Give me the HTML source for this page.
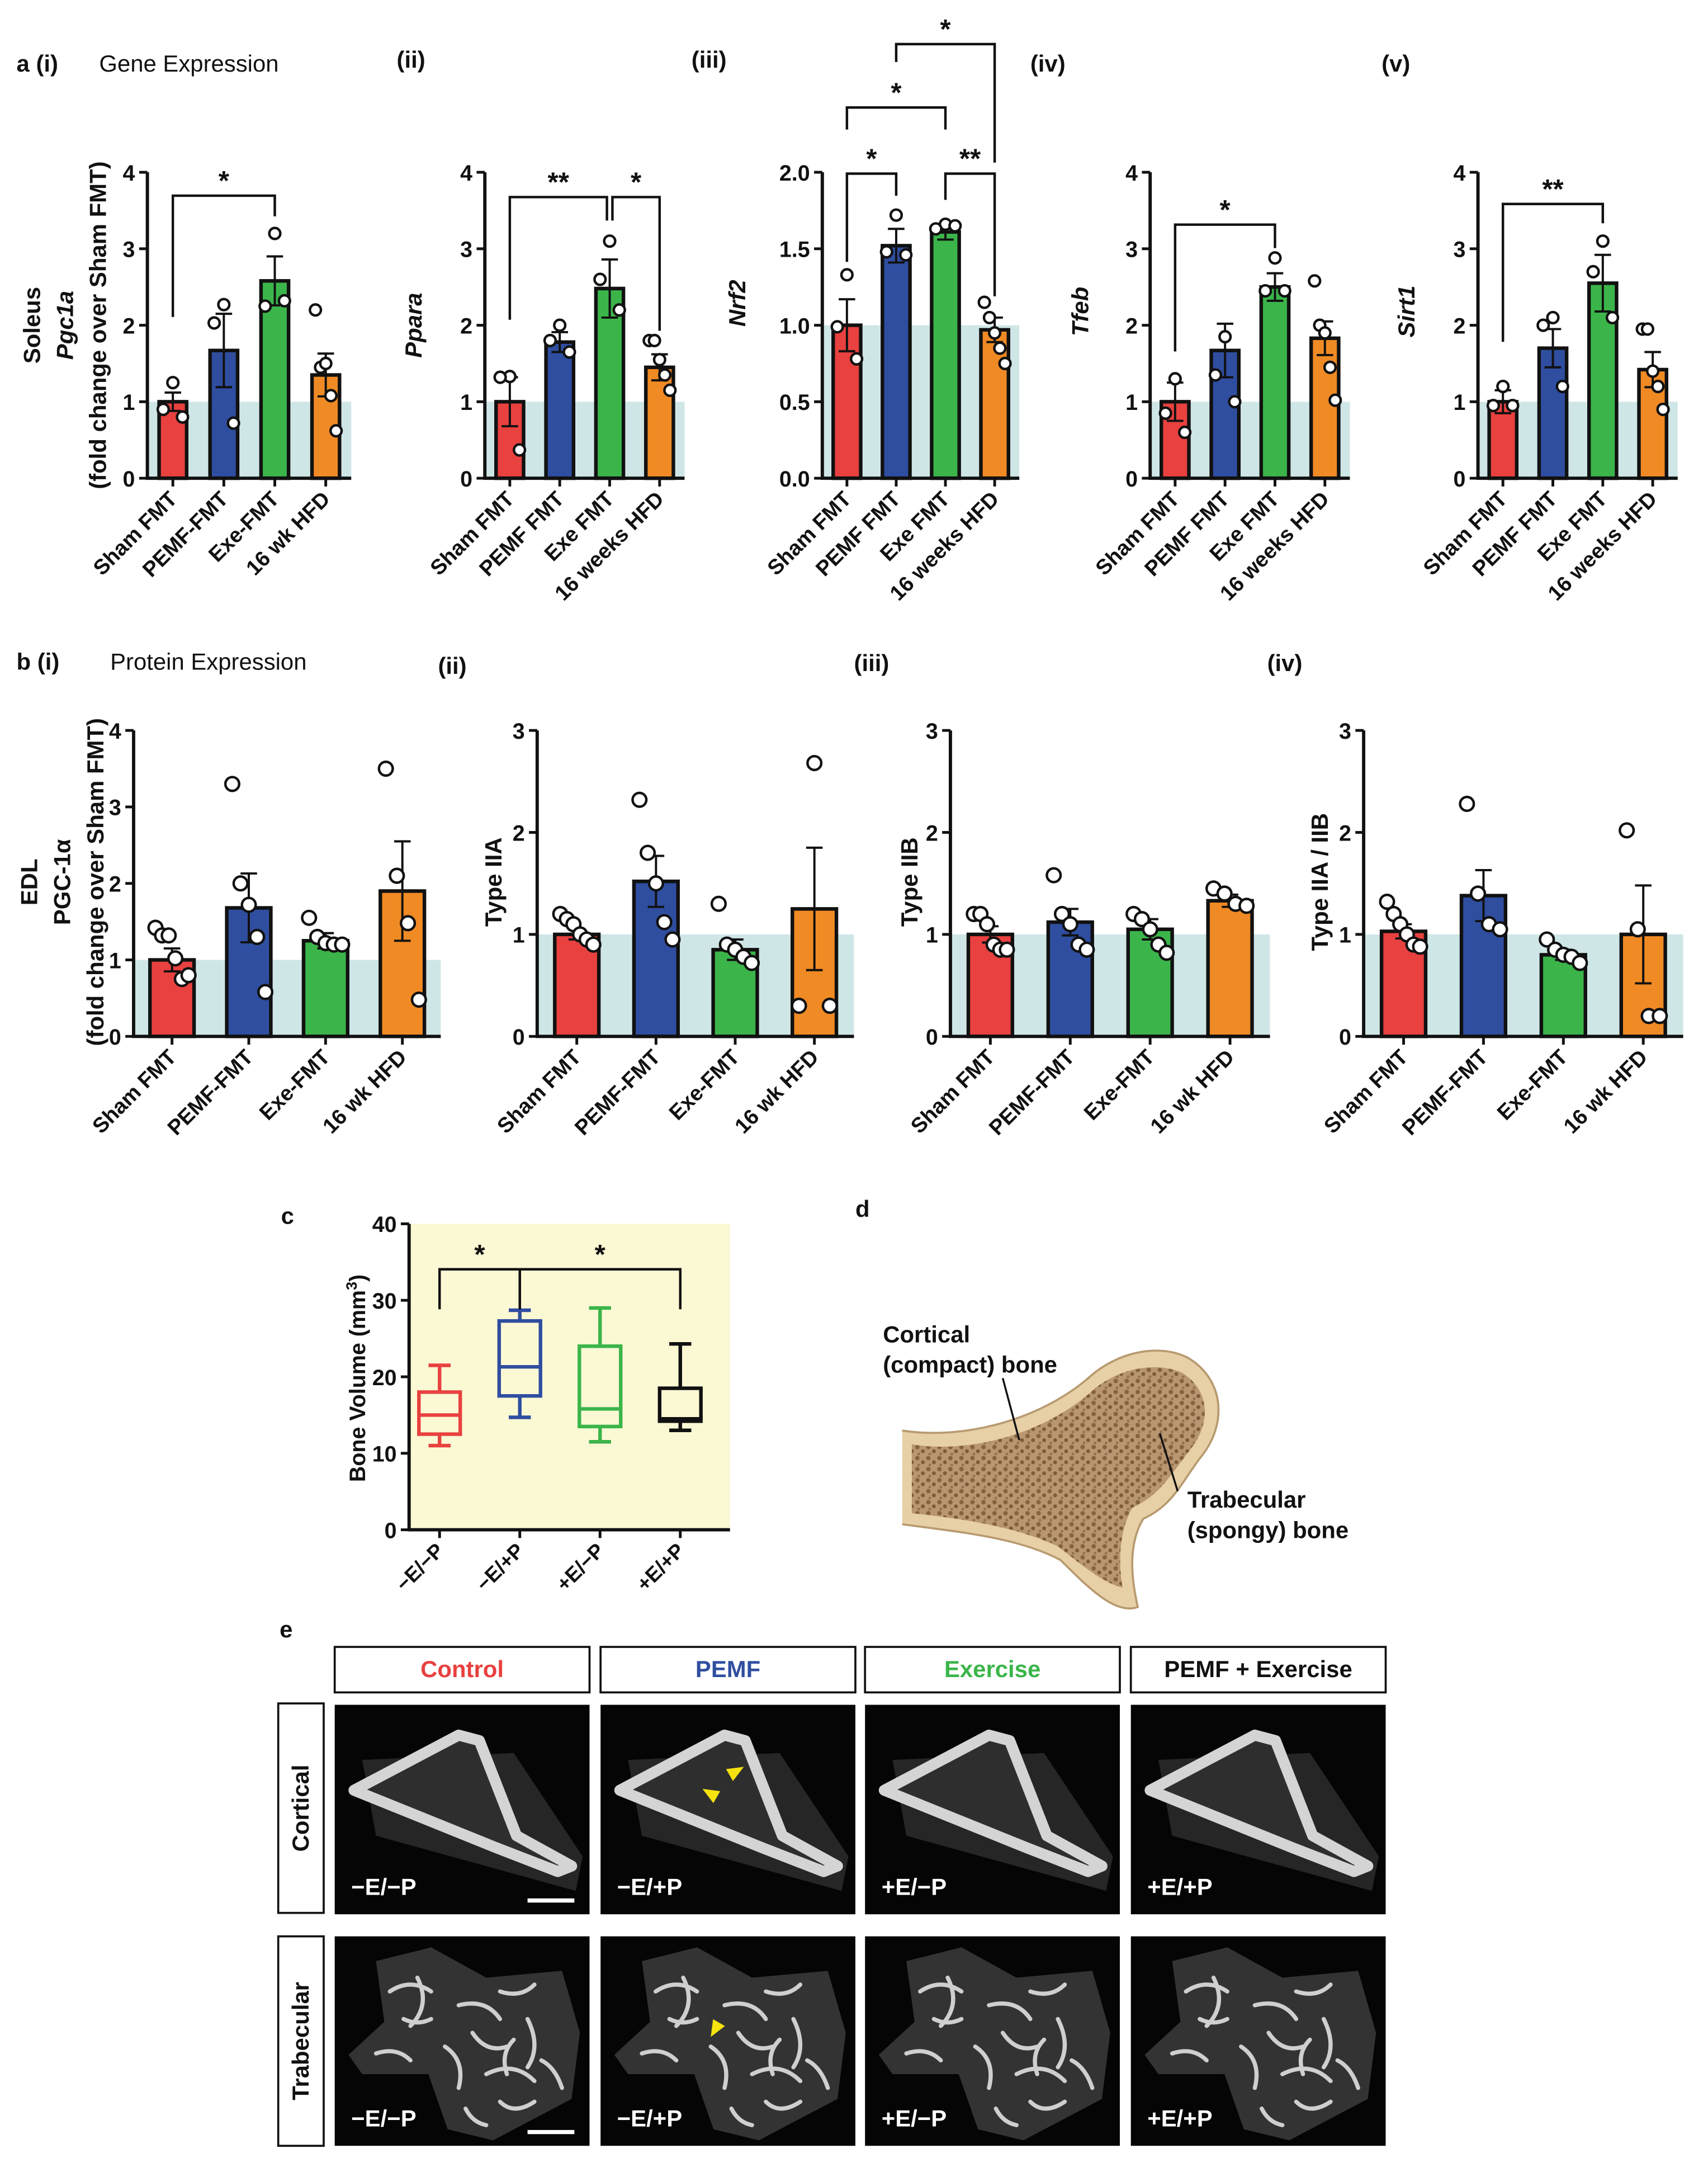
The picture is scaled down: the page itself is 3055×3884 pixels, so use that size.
<!DOCTYPE html>
<html><head><meta charset="utf-8">
<style>
html,body{margin:0;padding:0;background:#fff;}
svg{display:block;}
text{font-family:"Liberation Sans",Arial,sans-serif;}
</style></head>
<body>
<svg id="fig" width="3055" height="3884" viewBox="0 0 1240 1576" preserveAspectRatio="none" xmlns="http://www.w3.org/2000/svg">
<defs>
<pattern id="spongy" width="8" height="8" patternUnits="userSpaceOnUse">
<rect width="8" height="8" fill="#b89670"/>
<circle cx="2" cy="2" r="1.6" fill="#86623f"/><circle cx="6" cy="5" r="1.4" fill="#7d5a3a"/><circle cx="3" cy="7" r="1" fill="#94714e"/>
</pattern>
</defs>
<g id="root"></g>
</svg>
<script>
// ===== Panel a data =====
const groupsA1 = ["Sham FMT","PEMF-FMT","Exe-FMT","16 wk HFD"];
const groupsA2 = ["Sham FMT","PEMF FMT","Exe FMT","16 weeks HFD"];
const groupsB = ["Sham FMT","PEMF-FMT","Exe-FMT","16 wk HFD"];
const a1Means = [1.0,1.67,2.58,1.35];
const a1Sem = [0.12,0.48,0.32,0.28];
const a1Dots = [[1.25,0.9,0.8],[2.27,2.03,0.72],[3.2,2.25,2.32],[2.2,1.45,1.5,1.08,0.62]];
const a2Means = [1.0,1.78,2.48,1.45];
const a2Sem = [0.32,0.13,0.38,0.17];
const a2Dots = [[1.33,1.32,0.37],[2.0,1.8,1.65],[3.1,2.6,2.2],[1.8,1.8,1.55,1.35,1.15]];
const a3Means = [1.0,1.52,1.61,0.97];
const a3Sem = [0.17,0.11,0.05,0.08];
const a3Dots = [[1.33,0.99,0.78],[1.72,1.48,1.46],[1.66,1.63,1.65],[1.15,1.05,0.95,0.85,0.75]];
const a4Means = [1.0,1.67,2.5,1.83];
const a4Sem = [0.25,0.35,0.18,0.22];
const a4Dots = [[1.3,0.85,0.6],[1.85,1.35,1.0],[2.88,2.45,2.45],[2.58,2.0,1.9,1.45,1.02]];
const a5Means = [1.0,1.7,2.55,1.42];
const a5Sem = [0.15,0.25,0.37,0.23];
const a5Dots = [[1.2,0.95,0.95],[2.1,2.0,1.2],[3.1,2.7,2.1],[1.95,1.95,1.4,1.2,0.9]];
const ticks4 = ["0","1","2","3","4"];
const ticksNrf = ["0.0","0.5","1.0","1.5","2.0"];
const ticks3 = ["0","1","2","3"];
// ===== Panel b data =====
const b1Means = [1.0,1.68,1.25,1.9];
const b1Sem = [0.15,0.45,0.1,0.65];
const b1Dots = [[1.42,1.32,1.32,1.02,0.75,0.8],[3.3,2.0,1.72,1.3,0.58],[1.55,1.3,1.22,1.2,1.2],[3.5,2.1,1.48,0.48]];
const b2Means = [1.0,1.52,0.85,1.25];
const b2Sem = [0.05,0.25,0.1,0.6];
const b2Dots = [[1.2,1.15,1.1,1.0,0.95,0.9],[2.32,1.8,1.5,1.12,0.95],[1.3,0.9,0.85,0.78,0.72],[2.68,0.3,0.3]];
const b3Means = [1.0,1.12,1.05,1.33];
const b3Sem = [0.08,0.13,0.1,0.06];
const b3Dots = [[1.2,1.2,1.1,0.9,0.85,0.85],[1.58,1.2,1.1,0.9,0.85],[1.2,1.15,1.05,0.9,0.82],[1.45,1.4,1.3,1.28]];
const b4Means = [1.03,1.38,0.8,1.0];
const b4Sem = [0.07,0.25,0.05,0.48];
const b4Dots = [[1.32,1.2,1.1,1.0,0.9,0.88],[2.28,1.4,1.1,1.05],[0.95,0.85,0.8,0.78,0.72],[2.02,1.05,0.2,0.2]];
// ===== Panel c data =====
const cGroups = ["\u2212E/\u2212P","\u2212E/+P","+E/\u2212P","+E/+P"];
const cMin = [11,14.7,11.5,13];
const cQ1 = [12.5,17.5,13.5,14.2];
const cMed = [15,21.3,15.8,14.5];
const cQ3 = [18,27.3,24,18.5];
const cMax = [21.5,28.7,29,24.3];
const cTicks = ["0","10","20","30","40"];

const NS="http://www.w3.org/2000/svg";
const root=document.getElementById('root');
function mk(tag,attrs,parent,txt){const e=document.createElementNS(NS,tag);for(const k in attrs)e.setAttribute(k,attrs[k]);if(txt!==undefined)e.textContent=txt;(parent||root).appendChild(e);return e;}
const COLORS=["#e8413f","#2f4ea0","#3bb54a","#f08a24"];

function barChart(o){
  const g=mk('g',{});
  
  
  const yS=v=>o.y0-(v/o.ymax)*(o.y0-o.yTop);
  const n=o.means.length;
  const step=(o.xEnd-o.ax)/n;
  const xS=i=>o.ax+step*(i+0.5);
  const sh=mk('rect',{x:o.ax,y:yS(1),width:o.xEnd-o.ax,height:o.y0-yS(1),fill:"#cfe6e7"},g);
  
  
  for(let i=0;i<n;i++){
    const cx=xS(i),top=yS(o.means[i]);
    const b=mk('rect',{x:cx-o.bw/2,y:top,width:o.bw,height:o.y0-top,fill:COLORS[i],stroke:"#111","stroke-width":2.6},g);
    
    
    const hi=yS(o.means[i]+o.sem[i]),lo=yS(o.means[i]-o.sem[i]);
    const eb=mk('path',{d:`M${cx} ${lo}V${hi}M${cx-6} ${hi}H${cx+6}M${cx-6} ${lo}H${cx+6}`,stroke:"#111","stroke-width":1.6,fill:"none"},g);
    
    
    const d=o.dots[i],m=d.length;
    d.forEach((v,j)=>{
      let off=0;
      if(m>1){const w=o.bw*0.75;off=-w/2+w*j/(m-1);}
      if(m===3)off=[0,-o.bw*0.35,o.bw*0.35][j];
      const c=mk('circle',{cx:cx+off,cy:yS(v),r:o.r,fill:"#fff",stroke:"#111","stroke-width":1.8},g);
      
      
    });
    mk('line',{x1:cx,y1:o.y0,x2:cx,y2:o.y0+6,stroke:"#111","stroke-width":2},g);
    const t=mk('text',{x:cx+4,y:o.y0+16,transform:`rotate(-45 ${cx+4} ${o.y0+16})`,"text-anchor":"end","font-size":o.fs||15.5,"font-weight":"bold",fill:"#111"},g,o.labels[i]);
    
    
  }
  mk('path',{d:`M${o.ax} ${o.yTop}V${o.y0}H${o.xEnd}`,stroke:"#111","stroke-width":2.4,fill:"none"},g);
  o.ticks.forEach((tl,k)=>{
    const y=o.y0-(o.y0-o.yTop)*k/(o.ticks.length-1);
    mk('line',{x1:o.ax-6,y1:y,x2:o.ax,y2:y,stroke:"#111","stroke-width":2},g);
    const t=mk('text',{x:o.ax-9,y:y+6,"text-anchor":"end","font-size":16,"font-weight":"bold",fill:"#111"},g,tl);
    
    
  });
  return {xS,yS,g};
}
function ylabel(x,y,lines){
  lines.forEach((l,i)=>{
    const t=mk('text',{x:x+i*24,y:y,transform:`rotate(-90 ${x+i*24} ${y})`,"text-anchor":"middle","font-size":17,"font-weight":"bold","font-style":l.it?"italic":"normal",fill:"#111"},root,l.t);
    
    
  });
}
function bracket(x1,x2,y,l1,l2,lab){
  const p=mk('path',{d:`M${x1} ${l1}V${y}H${x2}V${l2}`,stroke:"#111","stroke-width":1.8,fill:"none"});
  
  
  const t=mk('text',{x:(x1+x2)/2,y:y-4,"text-anchor":"middle","font-size":20,"font-weight":"bold",fill:"#111"},root,lab);
  
  
}
function label(x,y,s,opt){
  const t=mk('text',Object.assign({x:x,y:y,"font-size":17,fill:"#111"},opt||{}),root,s);
  
  
  return t;
}
label(12,52,"a (i)",{"font-weight":"bold"});label(72,52,"Gene Expression");
label(288,49,"(ii)",{"font-weight":"bold"});label(502,49,"(iii)",{"font-weight":"bold"});
label(748,52,"(iv)",{"font-weight":"bold"});label(1003,52,"(v)",{"font-weight":"bold"});
label(12,486,"b (i)",{"font-weight":"bold"});label(80,486,"Protein Expression");
label(318,489,"(ii)",{"font-weight":"bold"});label(620,487,"(iii)",{"font-weight":"bold"});label(920,487,"(iv)",{"font-weight":"bold"});
label(204,888,"c",{"font-weight":"bold"});label(621,883,"d",{"font-weight":"bold"});label(203,1188,"e",{"font-weight":"bold"});

const A={y0:347,yTop:125,bw:20,r:4};
const c1=barChart(Object.assign({},A,{name:'chart-a1',ax:107,xEnd:255,ymax:4,ticks:ticks4,means:a1Means,sem:a1Sem,dots:a1Dots,labels:groupsA1}));
const c2=barChart(Object.assign({},A,{name:'chart-a2',ax:352,xEnd:497,ymax:4,ticks:ticks4,means:a2Means,sem:a2Sem,dots:a2Dots,labels:groupsA2}));
const c3=barChart(Object.assign({},A,{name:'chart-a3',ax:597,xEnd:740,ymax:2,ticks:ticksNrf,means:a3Means,sem:a3Sem,dots:a3Dots,labels:groupsA2}));
const c4=barChart(Object.assign({},A,{name:'chart-a4',ax:835,xEnd:980,ymax:4,ticks:ticks4,means:a4Means,sem:a4Sem,dots:a4Dots,labels:groupsA2}));
const c5=barChart(Object.assign({},A,{name:'chart-a5',ax:1073,xEnd:1218,ymax:4,ticks:ticks4,means:a5Means,sem:a5Sem,dots:a5Dots,labels:groupsA2}));
ylabel(29,236,[{t:"Soleus"},{t:"Pgc1a",it:true},{t:"(fold change over Sham FMT)"}]);
ylabel(306,236,[{t:"Ppara",it:true}]);
ylabel(541,220,[{t:"Nrf2",it:true}]);
ylabel(790,226,[{t:"Tfeb",it:true}]);
ylabel(1027,226,[{t:"Sirt1",it:true}]);
bracket(c1.xS(0),c1.xS(2),142,230,157,"*");
bracket(c2.xS(0),c2.xS(2)-2,143,232,160,"**");
bracket(c2.xS(2)+2,c2.xS(3),143,160,240,"*");
bracket(c3.xS(0),c3.xS(1),126,190,142,"*");
bracket(c3.xS(2),c3.xS(3),126,145,215,"**");
bracket(c3.xS(0),c3.xS(2),78,94,94,"*");
bracket(c3.xS(1),c3.xS(3),32,45,118,"*");
bracket(c4.xS(0),c4.xS(2),163,255,180,"*");
bracket(c5.xS(0),c5.xS(2),148,248,162,"**");

const B={y0:752,yTop:530,bw:32,r:5};
barChart(Object.assign({},B,{name:'chart-b1',ax:97,xEnd:320,ymax:4,ticks:ticks4,means:b1Means,sem:b1Sem,dots:b1Dots,labels:groupsB}));
barChart(Object.assign({},B,{name:'chart-b2',ax:390,xEnd:620,ymax:3,ticks:ticks3,means:b2Means,sem:b2Sem,dots:b2Dots,labels:groupsB}));
barChart(Object.assign({},B,{name:'chart-b3',ax:690,xEnd:922,ymax:3,ticks:ticks3,means:b3Means,sem:b3Sem,dots:b3Dots,labels:groupsB}));
barChart(Object.assign({},B,{name:'chart-b4',ax:990,xEnd:1222,ymax:3,ticks:ticks3,means:b4Means,sem:b4Sem,dots:b4Dots,labels:groupsB}));
ylabel(27,640,[{t:"EDL"},{t:"PGC-1\u03b1"},{t:"(fold change over Sham FMT)"}]);
ylabel(364,640,[{t:"Type IIA"}]);
ylabel(666,640,[{t:"Type IIB"}]);
ylabel(964,640,[{t:"Type IIA / IIB"}]);

(function(){
  const ax=297,xEnd=530,y0=1110,yTop=888,ymax=40;
  const yS=v=>y0-(v/ymax)*(y0-yTop);
  const step=(xEnd-ax)/4, xS=i=>ax+step*(i+0.5)-7;
  const bg=mk('rect',{x:ax,y:yTop,width:xEnd-ax,height:y0-yTop,fill:"#fbf8d4"});
  
  
  const cols=["#e8413f","#2f4ea0","#3bb54a","#111"];
  for(let i=0;i<4;i++){
    const cx=xS(i),w=30;
    const g=mk('g',{stroke:cols[i],"stroke-width":2.6,fill:"none"});
    
    
    mk('rect',{x:cx-w/2,y:yS(cQ3[i]),width:w,height:yS(cQ1[i])-yS(cQ3[i])},g);
    mk('path',{d:`M${cx-w/2} ${yS(cMed[i])}H${cx+w/2}M${cx} ${yS(cQ3[i])}V${yS(cMax[i])}M${cx-8} ${yS(cMax[i])}H${cx+8}M${cx} ${yS(cQ1[i])}V${yS(cMin[i])}M${cx-8} ${yS(cMin[i])}H${cx+8}`},g);
    mk('line',{x1:cx,y1:y0,x2:cx,y2:y0+6,stroke:"#111","stroke-width":2});
    const t=mk('text',{x:cx+4,y:y0+16,transform:`rotate(-45 ${cx+4} ${y0+16})`,"text-anchor":"end","font-size":15,"font-weight":"bold",fill:"#111"},root,cGroups[i]);
    
    
  }
  mk('path',{d:`M${ax} ${yTop}V${y0}H${xEnd}`,stroke:"#111","stroke-width":2.4,fill:"none"});
  cTicks.forEach((tl,k)=>{
    const y=y0-(y0-yTop)*k/4;
    mk('line',{x1:ax-6,y1:y,x2:ax,y2:y,stroke:"#111","stroke-width":2});
    const t=mk('text',{x:ax-9,y:y+6,"text-anchor":"end","font-size":16,"font-weight":"bold",fill:"#111"},root,tl);
    
    
  });
  const yl=mk('text',{x:265,y:1000,transform:"rotate(-90 265 1000)","text-anchor":"middle","font-size":16,"font-weight":"bold",fill:"#111"});
  
  
  yl.innerHTML='Bone Volume (mm<tspan dy="-6" font-size="11">3</tspan><tspan dy="6">)</tspan>';
  bracket(xS(0),xS(1),921,950,950,"*");
  bracket(xS(1),xS(3),921,950,950,"*");
})();

(function(){
  const g=mk('g',{});
  
  
  mk('path',{d:"M655 1038 C700 1045 755 1030 790 1000 C812 980 842 975 862 985 C888 1000 892 1032 872 1057 C858 1075 852 1092 830 1102 C818 1122 822 1148 826 1166 C810 1172 790 1152 770 1132 C740 1116 700 1112 655 1106",fill:"#e7cfa6",stroke:"#b89a70","stroke-width":1.5},g);
  mk('path',{d:"M662 1048 C705 1055 758 1040 792 1010 C812 992 840 988 858 996 C878 1008 880 1032 864 1052 C850 1070 842 1085 822 1094 C812 1112 812 1135 815 1152 C800 1148 786 1136 768 1122 C738 1108 700 1102 662 1098 Z",fill:"url(#spongy)"},g);
  mk('path',{d:"M728 1000 L740 1045 M855 1082 L842 1040",stroke:"#111","stroke-width":1.4,fill:"none"},g);
  label(641,974,"Cortical",{"font-weight":"bold","font-size":17});
  label(641,996,"(compact) bone",{"font-weight":"bold","font-size":17});
  label(862,1094,"Trabecular",{"font-weight":"bold","font-size":17});
  label(862,1116,"(spongy) bone",{"font-weight":"bold","font-size":17});
})();

const eHeads=["Control","PEMF","Exercise","PEMF + Exercise"];
const eHeadCols=["#e8413f","#2f4ea0","#3bb54a","#111"];
const eCodes=["\u2212E/\u2212P","\u2212E/+P","+E/\u2212P","+E/+P"];
const eX=[243,436,628,821];
(function(){
  const W=185,H=152;
  eX.forEach((x,i)=>{
    const hb=mk('rect',{x:x,y:1195,width:W,height:33,fill:"#fff",stroke:"#111","stroke-width":1.5});
    
    
    label(x+W/2,1217,eHeads[i],{"text-anchor":"middle","font-weight":"bold","font-size":17,fill:eHeadCols[i]});
    [1237,1405].forEach((y,r)=>{
      const g=mk('g',{});
      
      
      mk('rect',{x:x,y:y,width:W,height:H,fill:"#050505"},g);
      if(r===0){
        mk('path',{d:`M${x+20} ${y+40} L${x+130} ${y+35} L${x+180} ${y+110} L${x+175} ${y+135} L${x+30} ${y+95} Z`,fill:"#262626"},g);
        mk('path',{d:`M${x+14} ${y+62} L${x+90} ${y+22} L${x+105} ${y+26} L${x+132} ${y+95} L${x+172} ${y+117} L${x+162} ${y+121} L${x+118} ${y+104} Z`,fill:"#2e2e2e",stroke:"#d4d4d4","stroke-width":8,"stroke-linejoin":"round"},g);
      } else {
        mk('path',{d:`M${x+30} ${y+18} L${x+70} ${y+8} L${x+110} ${y+30} L${x+165} ${y+25} L${x+178} ${y+70} L${x+172} ${y+118} L${x+115} ${y+148} L${x+82} ${y+140} L${x+68} ${y+100} L${x+20} ${y+100} L${x+10} ${y+86} L${x+36} ${y+62} Z`,fill:"#333"},g);
        const sq=["M40 40 q15 -10 30 0","M60 30 q10 20 -5 35","M90 50 q20 -5 30 10","M120 40 q15 5 25 -5","M100 70 q10 15 25 10","M140 60 q10 20 0 35","M80 80 q15 10 10 30","M110 100 q20 -10 35 5","M120 120 q10 10 25 0","M30 85 q15 -5 25 5","M150 90 q10 5 15 20","M95 125 q5 10 15 12","M50 60 q10 5 20 0","M130 75 q-10 10 -5 25"];
        sq.forEach(s=>{mk('path',{d:s.replace(/^M(\d+) (\d+)/,(m,a,b)=>`M${x+ +a} ${y+ +b}`),stroke:"#cfcfcf","stroke-width":3,fill:"none","stroke-linecap":"round"},g);});
      }
      const t=mk('text',{x:x+12,y:y+H-14,"font-size":17,"font-weight":"bold",fill:"#fff"},g,eCodes[i]);
      
      
      if(i===0) mk('line',{x1:x+140,y1:y+H-10,x2:x+174,y2:y+H-10,stroke:"#fff","stroke-width":3},g);
    });
  });
  [[1236,"Cortical"],[1405,"Trabecular"]].forEach(([y,s])=>{
    const b=mk('rect',{x:202,y:y,width:33,height:152,fill:"#fff",stroke:"#111","stroke-width":1.5});
    
    
    label(224,y+76,s,{"text-anchor":"middle","font-weight":"bold","font-size":17,transform:`rotate(-90 224 ${y+76})`});
  });
  [[510,1298,30],[540,1282,150],[516,1478,-60]].forEach(([ax,ay,rot])=>{
    const a=mk('path',{d:`M${ax} ${ay} l12 -5 l0 10 z`,fill:"#f5e20f",transform:`rotate(${rot} ${ax} ${ay})`});
    
    
  });
})();
</script>
</body></html>
